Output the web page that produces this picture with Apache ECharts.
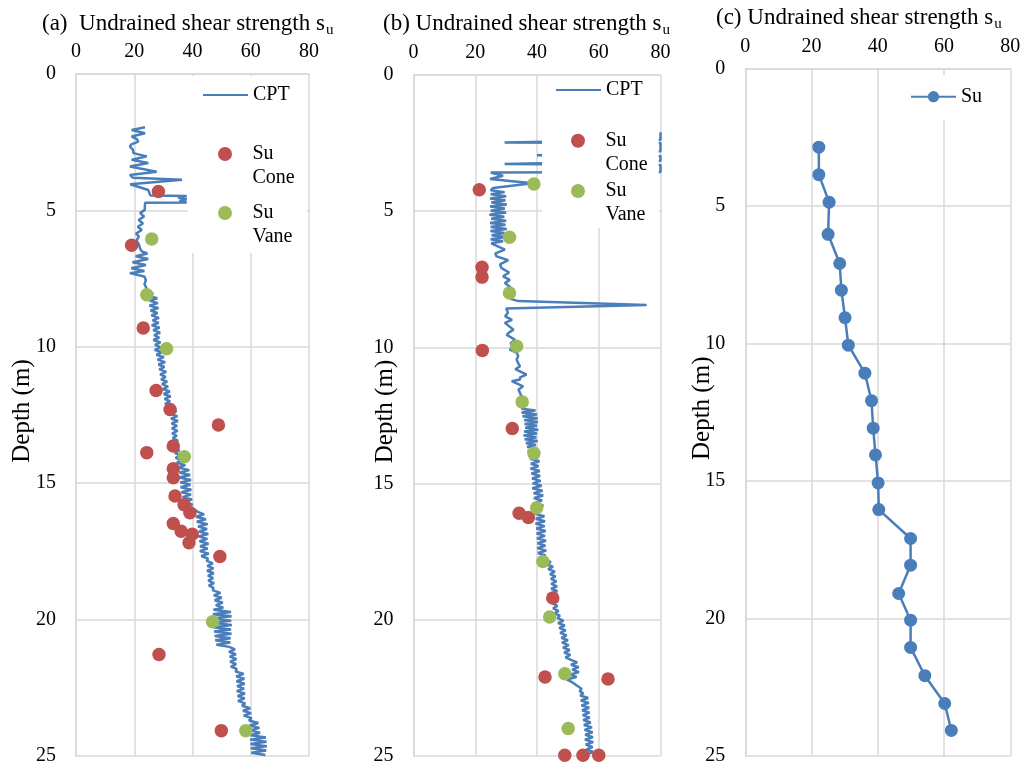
<!DOCTYPE html>
<html>
<head>
<meta charset="utf-8">
<script src="https://cdn.jsdelivr.net/npm/echarts@6/dist/echarts.min.js"></script>
<style>
  html, body { margin: 0; padding: 0; background: #fff; }
  #chart { width: 1026px; height: 766px; }
</style>
</head>
<body>
<div id="chart"></div>
<script>
// ---------- data: [depth (m), undrained shear strength su (kPa)] ----------

// (a) CPT-derived su profile
const cptA = [
  [1.95,23.7],[2.05,19.1],[2.17,23.7],[2.29,19.1],[2.40,21.0],[2.48,21.4],[2.58,19.0],[2.66,18.5],
  [2.78,19.6],[2.90,19.7],[3.02,24.3],[3.14,19.1],[3.26,24.8],[3.39,18.5],[3.58,27.7],[3.70,18.5],
  [3.80,19.5],[3.88,36.4],[4.04,18.6],[4.25,24.8],[4.45,25.5],[4.47,38.0],[4.53,35.0],[4.59,38.0],
  [4.65,35.5],[4.71,38.0],[4.72,23.7],[4.98,23.6],[5.10,22.0],[5.22,23.4],[5.35,21.5],[5.48,23.0],
  [5.60,21.2],[5.72,22.6],[5.85,20.6],[5.95,21.6],[6.10,20.8],[6.25,21.6],[6.40,22.0],[6.50,22.6],
  [6.58,24.5],[6.68,20.5],[6.78,24.8],[6.90,19.4],[7.00,24.0],[7.12,19.0],[7.22,23.5],[7.30,18.5],
  [7.42,23.4],[7.55,24.0],[7.70,23.5],[7.85,24.2],[7.98,24.4],[8.05,26.5],
  [8.14,25.0],[8.22,27.9],[8.31,25.3],[8.40,28.1],[8.49,25.2],[8.58,28.3],[8.67,25.6],[8.76,28.0],
  [8.85,25.9],[8.94,28.5],[9.03,26.3],[9.12,28.4],[9.21,26.0],[9.30,28.7],[9.39,26.5],[9.48,28.9],
  [9.57,26.8],[9.66,28.6],[9.75,26.6],[9.84,29.0],[9.93,27.1],[10.02,29.2],[10.11,27.0],[10.20,29.5],
  [10.29,27.6],[10.38,30.2],[10.47,28.0],[10.56,30.6],[10.65,28.3],[10.74,30.4],[10.83,28.6],[10.92,31.0],
  [11.01,28.9],[11.10,30.8],[11.19,29.2],[11.28,31.3],[11.37,29.5],[11.46,31.6],
  [11.55,29.8],[11.64,32.2],[11.73,30.1],[11.82,32.5],[11.91,30.4],[12.00,32.3],[12.09,30.6],[12.18,32.8],
  [12.27,31.2],[12.36,34.5],[12.45,32.4],[12.54,34.8],[12.63,32.6],[12.72,35.0],[12.81,32.8],[12.90,34.7],
  [12.99,32.9],[13.08,34.9],[13.17,33.0],[13.26,34.6],[13.35,33.2],[13.44,35.0],[13.53,33.3],[13.62,35.3],
  [13.71,33.6],[13.80,35.5],[13.89,33.9],[13.98,35.9],[14.07,34.2],[14.16,36.3],[14.25,34.6],[14.34,37.5],
  [14.43,35.2],[14.52,38.9],[14.61,35.5],[14.70,39.2],[14.79,35.4],[14.88,39.5],[14.97,35.8],[15.06,39.3],
  [15.15,35.9],[15.24,39.6],[15.33,36.2],[15.42,39.5],[15.51,36.6],[15.60,39.8],[15.69,37.0],[15.78,40.0],
  [15.87,37.6],[15.96,40.6],[16.05,41.8],[16.14,44.0],[16.23,41.2],[16.32,44.6],[16.41,41.5],[16.50,45.2],
  [16.59,41.9],[16.68,45.0],[16.77,42.2],[16.86,45.4],[16.95,42.0],[17.04,45.1],[17.13,42.4],[17.22,45.5],
  [17.31,42.6],[17.40,45.2],[17.49,42.5],[17.58,45.6],[17.67,43.0],[17.76,45.3],
  [17.85,44.9],[17.94,47.0],[18.03,45.1],[18.12,47.2],[18.21,45.0],[18.30,47.3],[18.39,45.3],[18.48,47.1],
  [18.57,45.4],[18.66,47.4],[18.75,45.6],[18.84,47.2],[18.93,47.0],[19.02,49.6],[19.11,47.3],[19.20,50.0],
  [19.29,47.6],[19.38,50.4],[19.47,48.0],[19.56,50.6],[19.64,47.2],[19.72,53.2],[19.80,47.0],[19.88,53.4],
  [19.96,46.8],[20.04,53.3],[20.12,47.0],[20.20,53.5],[20.28,47.2],[20.36,53.2],[20.44,47.4],[20.52,53.4],
  [20.60,47.6],[20.68,53.1],[20.76,47.8],[20.84,53.0],[20.92,48.2],[21.00,52.6],[21.09,54.6],[21.18,52.5],
  [21.27,54.9],[21.36,52.8],[21.45,55.1],[21.54,52.9],[21.63,55.0],[21.72,53.2],[21.81,55.2],
  [21.90,54.8],[21.99,57.6],[22.08,55.0],[22.17,57.8],[22.26,55.1],[22.35,57.9],[22.44,55.3],[22.53,57.7],
  [22.62,55.2],[22.71,58.0],[22.80,55.5],[22.89,57.9],[22.98,55.6],[23.07,58.1],[23.16,57.0],[23.25,59.8],
  [23.34,57.3],[23.43,60.1],[23.52,57.6],[23.61,60.3],[23.70,59.4],[23.79,62.6],[23.88,59.6],[23.97,63.0],
  [24.06,59.8],[24.15,63.2],[24.24,60.0],[24.32,65.2],[24.40,59.8],[24.48,65.4],[24.56,59.9],[24.64,65.5],
  [24.72,60.0],[24.80,65.3],[24.88,60.2],[24.96,65.0]
];
// (a) fall cone and field vane results
const coneA = [
  [4.31,28.3],[6.28,19.1],[9.31,23.1],[11.60,27.5],[12.30,32.3],[12.87,48.9],[13.64,33.4],[13.88,24.3],
  [14.47,33.4],[14.80,33.4],[15.47,34.0],[15.79,37.1],[16.08,39.1],[16.48,33.4],[16.76,36.1],[16.87,39.9],
  [17.18,38.8],[17.69,49.4],[21.28,28.5],[24.07,49.9]
];
const vaneA = [[6.05,26.0],[8.09,24.3],[10.07,31.1],[14.03,37.2],[20.08,46.9],[24.07,58.3]];

// (b) CPT-derived su profile (values above 80 kPa run off the axis)
const cptB = [
  [2.10,80],[2.38,80],[2.48,29.5],[2.50,80],[2.80,80],[2.95,40.0],[2.97,80],[3.15,80],[3.27,29.5],
  [3.30,80],[3.56,80],[3.58,25.0],[3.70,29.0],[3.82,24.8],[3.97,38.5],[4.15,25.8],[4.23,25.0],
  [4.30,29.5],[4.38,25.0],[4.45,30.0],[4.53,24.8],[4.60,29.8],[4.68,25.2],[4.75,30.2],[4.83,24.8],
  [4.90,29.6],[4.98,25.0],[5.05,30.0],[5.13,24.6],[5.20,29.4],[5.28,25.2],[5.35,30.0],[5.43,24.8],
  [5.50,29.8],[5.58,25.0],[5.65,30.2],[5.73,24.9],[5.80,29.5],[5.88,25.3],[5.95,30.0],[6.03,25.0],
  [6.10,29.0],[6.18,25.2],[6.41,29.6],[6.55,26.5],[6.66,26.9],[6.80,30.7],[6.95,28.0],[7.09,28.5],
  [7.25,31.0],[7.39,29.0],[7.52,31.2],[7.64,29.6],[7.80,31.5],[7.95,30.4],[8.07,32.6],[8.22,31.4],
  [8.30,34.0],[8.44,75.5],[8.57,30.0],[8.72,30.6],[8.86,29.7],[8.99,31.9],[9.10,29.6],[9.17,29.2],
  [9.35,32.4],[9.45,31.0],[9.54,30.2],[9.72,32.9],[9.85,31.5],[10.00,32.0],[10.08,31.2],[10.20,33.5],
  [10.32,33.9],[10.45,33.4],[10.60,34.0],[10.69,34.5],[10.80,33.0],[10.87,32.9],[11.00,36.6],[11.10,34.5],
  [11.18,34.5],[11.24,31.8],[11.43,35.5],[11.55,34.0],[11.67,34.5],[11.80,35.0],[11.91,35.5],[12.05,35.2],
  [12.15,36.0],[12.25,35.0],[12.32,39.5],[12.39,35.0],[12.46,40.0],[12.53,35.3],[12.60,40.2],[12.67,35.8],
  [12.74,40.3],[12.81,36.0],[12.88,40.0],[12.95,36.2],[13.02,40.4],[13.09,35.8],[13.16,40.0],[13.23,35.6],
  [13.30,39.8],[13.37,36.0],[13.44,40.2],[13.51,36.4],[13.58,39.6],[13.65,36.8],[13.72,40.0],[13.79,37.0],
  [13.86,39.5],[13.93,37.2],[14.00,40.6],[14.09,37.8],[14.18,40.8],[14.27,38.0],[14.36,40.5],[14.45,37.9],
  [14.54,40.9],[14.63,38.2],[14.72,41.0],[14.81,38.4],[14.90,41.2],[14.99,38.6],[15.08,41.5],[15.17,38.5],
  [15.26,41.8],[15.35,38.9],[15.44,42.0],[15.53,39.0],[15.62,41.6],[15.71,39.4],[15.80,42.0],[15.92,40.2],
  [16.02,41.2],[16.11,39.4],[16.20,42.4],[16.29,39.6],[16.38,42.6],[16.47,39.5],[16.56,42.5],[16.65,39.8],
  [16.74,42.8],[16.83,39.9],[16.92,42.6],[17.01,40.0],[17.10,42.9],[17.19,40.2],[17.28,42.7],[17.37,40.1],
  [17.46,43.0],[17.55,40.3],[17.64,42.8],[17.73,40.6],[17.80,42.0],[17.88,44.5],[17.96,42.8],[18.05,45.2],
  [18.14,43.6],[18.23,45.8],[18.32,44.2],[18.41,46.0],[18.50,44.5],[18.59,46.3],[18.68,44.6],[18.77,46.5],
  [18.86,44.6],[18.95,46.6],[19.04,44.5],[19.13,46.7],[19.22,44.8],[19.31,46.8],[19.40,45.0],[19.49,46.6],
  [19.58,45.2],[19.67,47.0],[19.76,45.6],[19.85,47.4],[19.94,46.6],[20.03,48.6],[20.12,46.8],[20.21,49.0],
  [20.30,47.2],[20.39,49.3],[20.48,47.5],[20.57,49.6],[20.66,47.9],[20.75,50.0],[20.84,48.1],[20.93,50.3],
  [21.02,48.4],[21.11,50.6],[21.20,48.8],[21.29,50.8],[21.38,49.2],[21.47,51.0],[21.56,53.0],[21.65,51.0],
  [21.74,53.5],[21.83,51.4],[21.92,53.6],[22.01,50.8],[22.10,52.8],[22.19,49.6],[22.30,51.5],[22.42,53.0],
  [22.54,54.5],[22.62,53.8],[22.70,55.0],[22.78,54.0],[22.87,56.6],[22.96,54.2],[23.05,56.8],[23.14,54.4],
  [23.23,56.9],[23.32,54.6],[23.41,57.0],[23.50,54.8],[23.59,57.1],[23.68,55.0],[23.77,57.4],[23.86,55.2],
  [23.95,57.8],[24.04,55.4],[24.13,58.0],[24.22,55.6],[24.31,58.1],[24.40,55.5],[24.49,58.2],[24.58,55.8],
  [24.67,58.0],[24.76,56.0],[24.85,58.2],[24.94,56.4]
];
const coneB = [
  [4.21,21.3],[7.06,22.2],[7.42,22.2],[10.11,22.3],[12.98,32.0],[16.09,34.2],[16.24,37.2],[19.20,45.1],
  [22.10,42.6],[22.17,63.0],[24.97,49.0],[24.97,54.9],[24.97,60.0]
];
const vaneB = [
  [4.00,39.0],[5.96,31.1],[8.00,31.1],[9.96,33.4],[12.00,35.2],[13.89,39.0],[15.89,39.9],[17.86,41.9],
  [19.90,44.1],[21.98,49.0],[23.99,50.1]
];

// (c) design su profile
const suDepthC = [2.86,3.86,4.86,6.03,7.09,8.06,9.06,10.06,11.08,12.08,13.08,14.05,15.07,16.04,17.09,18.06,19.09,20.06,21.05,22.08,23.09,24.07];
const suValueC = [22.2,22.2,25.3,25.0,28.5,29.0,30.1,31.1,36.1,38.1,38.6,39.3,40.1,40.3,49.9,49.9,46.3,49.9,49.9,54.2,60.2,62.2];

const panelTitles = ['(a)  Undrained shear strength s', '(b) Undrained shear strength s', '(c) Undrained shear strength s'];
const depthAxisName = 'Depth (m)';

// ---------- styling ----------
const FONT = 'Liberation Serif';
const BLUE = '#4A7EBB';
const RED = '#C0504D';
const GREEN = '#9BBB59';
const GRIDC = '#D9D9D9';

const toXY = rows => rows.map(([d, v]) => [v, d]);

const grids = [
  { left: 76, top: 74, width: 233, height: 682 },
  { left: 413.5, top: 75, width: 247, height: 681 },
  { left: 745.3, top: 68.5, width: 265, height: 689.5 }
];
const nameGaps = [41.5, 16, 30];

function makeX(i) {
  return {
    type: 'value', gridIndex: i, position: 'top', min: 0, max: 80, interval: 20,
    axisLine: { show: true, lineStyle: { color: GRIDC, width: 1.5 } },
    axisTick: { show: false },
    axisLabel: { fontFamily: FONT, fontSize: 20, color: '#000', margin: 12 },
    splitLine: { show: true, lineStyle: { color: GRIDC, width: 1.5 } }
  };
}
function makeY(i) {
  return {
    type: 'value', gridIndex: i, inverse: true, min: 0, max: 25, interval: 5,
    name: depthAxisName, nameLocation: 'middle', nameGap: nameGaps[i], nameRotate: 90,
    nameMoveOverlap: false,
    nameTextStyle: { fontFamily: FONT, fontSize: 25, color: '#000', padding: [0, 0, 0, 8] },
    axisLine: { show: true, lineStyle: { color: GRIDC, width: 1.5 } },
    axisTick: { show: false },
    axisLabel: { fontFamily: FONT, fontSize: 20, color: '#000', margin: 20 },
    splitLine: { show: true, lineStyle: { color: GRIDC, width: 1.5 } }
  };
}

const titleTops = [9, 9, 3];
const titleLefts = [42, 383, 716];
const titles = panelTitles.map((t, i) => ({
  text: t + '{u|u}', left: titleLefts[i], top: titleTops[i], padding: 0,
  textStyle: {
    fontFamily: FONT, fontSize: 23, fontWeight: 'normal', color: '#000',
    rich: { u: { fontFamily: FONT, fontSize: 15, color: '#000', padding: [14, 0, 0, 1] } }
  }
}));

const legText = { fontFamily: FONT, fontSize: 20, color: '#000' };
function lineLegend(name, left, top, padding, hideSymbol) {
  const lg = {
    data: [name], left, top, padding, backgroundColor: '#fff', orient: 'vertical',
    itemWidth: 45, itemHeight: 14, selectedMode: false,
    textStyle: Object.assign({ lineHeight: 20 }, legText)
  };
  if (hideSymbol) lg.itemStyle = { opacity: 0 };
  return lg;
}
// marker legends: the label sits in two lines with "Su" level with the marker
function dotLegend(name, left, top) {
  return {
    data: [name], left, top, padding: 0, orient: 'vertical',
    itemWidth: 45, itemHeight: 14, selectedMode: false,
    formatter: n => '\n' + n.replace(' ', '\n'),
    textStyle: Object.assign({ lineHeight: 24 }, legText)
  };
}

const option = {
  animation: false,
  backgroundColor: '#fff',
  title: titles,
  grid: grids,
  xAxis: [makeX(0), makeX(1), makeX(2)],
  yAxis: [makeY(0), makeY(1), makeY(2)],
  legend: [
    lineLegend('CPT', 188, 76, [9, 17, 148, 14], true),
    dotLegend('Su Cone', 218, 118),
    dotLegend('Su Vane', 218, 177),
    lineLegend('CPT', 542, 76, [4, 16, 128, 13], true),
    dotLegend('Su Cone', 571, 104.7),
    dotLegend('Su Vane', 571, 155),
    lineLegend('Su', 900, 75, [11.7, 9, 13, 10], false)
  ],
  series: [
    { type: 'line', name: 'CPT', xAxisIndex: 0, yAxisIndex: 0, data: toXY(cptA), symbol: 'none',
      lineStyle: { color: BLUE, width: 2.5 }, itemStyle: { color: BLUE }, z: 2 },
    { type: 'scatter', name: 'Su Cone', xAxisIndex: 0, yAxisIndex: 0, data: toXY(coneA), symbolSize: 13.5,
      itemStyle: { color: RED, opacity: 1 }, z: 3 },
    { type: 'scatter', name: 'Su Vane', xAxisIndex: 0, yAxisIndex: 0, data: toXY(vaneA), symbolSize: 13.5,
      itemStyle: { color: GREEN, opacity: 1 }, z: 3 },

    { type: 'line', name: 'CPT', xAxisIndex: 1, yAxisIndex: 1, data: toXY(cptB), symbol: 'none',
      lineStyle: { color: BLUE, width: 2.5 }, itemStyle: { color: BLUE }, z: 2 },
    { type: 'scatter', name: 'Su Cone', xAxisIndex: 1, yAxisIndex: 1, data: toXY(coneB), symbolSize: 13.5,
      itemStyle: { color: RED, opacity: 1 }, z: 3 },
    { type: 'scatter', name: 'Su Vane', xAxisIndex: 1, yAxisIndex: 1, data: toXY(vaneB), symbolSize: 13.5,
      itemStyle: { color: GREEN, opacity: 1 }, z: 3 },

    { type: 'line', name: 'Su', xAxisIndex: 2, yAxisIndex: 2,
      data: suValueC.map((v, i) => [v, suDepthC[i]]),
      symbol: 'circle', symbolSize: 13, showSymbol: true,
      lineStyle: { color: BLUE, width: 2.5 }, itemStyle: { color: BLUE }, z: 2 }
  ]
};

const chart = echarts.init(document.getElementById('chart'), null, { renderer: 'canvas' });
chart.setOption(option);
</script>
</body>
</html>
